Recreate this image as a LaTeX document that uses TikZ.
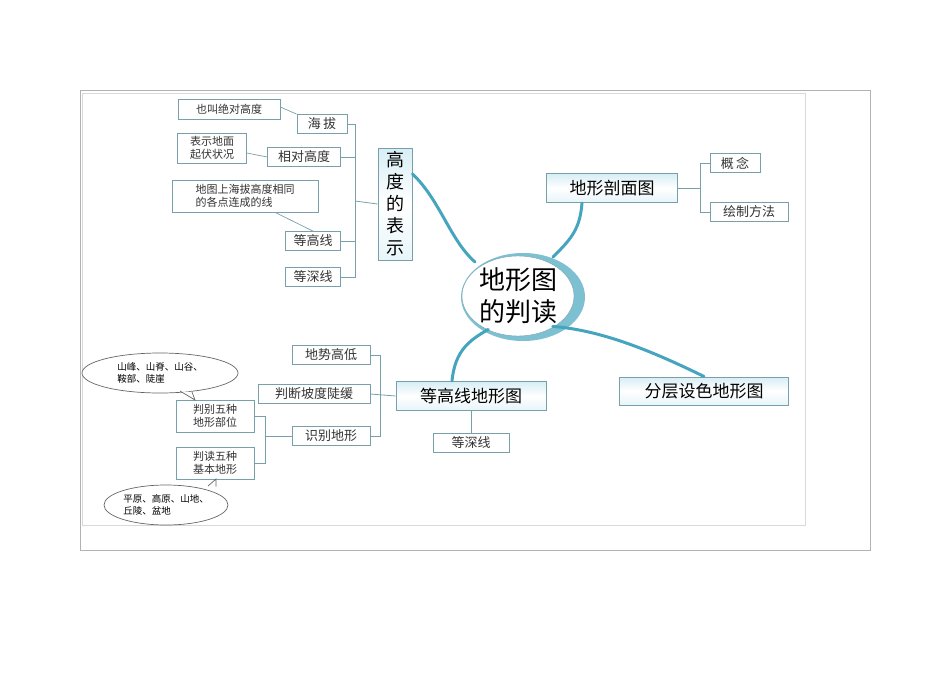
\documentclass[tikz,border=0pt]{standalone}
\usepackage{fontspec}
\setmainfont{Noto Sans CJK SC}
\usetikzlibrary{shapes.geometric}
\definecolor{teal1}{RGB}{70,165,190}
\definecolor{edge}{RGB}{120,160,170}
\definecolor{lb}{RGB}{215,238,245}
\tikzset{
 box/.style={draw=edge,line width=0.8pt,fill=white,inner sep=0pt,minimum height=19pt,font=\fontsize{13}{14}\selectfont,text=black!80},
 note/.style={draw=edge,line width=0.7pt,fill=white,inner sep=3pt,align=left,font=\fontsize{11}{13}\selectfont,text=black!80},
 main/.style={draw=edge,line width=1pt,top color=lb,bottom color=lb!60!white,middle color=white,inner sep=0pt,font=\fontsize{17}{18}\selectfont},
 br/.style={draw=edge,line width=0.8pt},
 big/.style={draw=teal1,line width=3pt,line cap=round},
 bub/.style={draw=black!60,line width=0.7pt,fill=white,ellipse,inner sep=0pt,align=left,font=\fontsize{9.5}{12}\selectfont}
}
\begin{document}
\begin{tikzpicture}[x=1pt,y=-1pt]
\useasboundingbox (0,0) rectangle (950,672);
\draw[black!30] (80,90) rectangle (870,550);
\draw[black!15] (82,93) rectangle (805,525);
% center
\fill[teal1!70] (523,297) ellipse [x radius=62,y radius=44];
\node[draw=edge,fill=white,ellipse,minimum width=112,minimum height=80,inner sep=0pt,align=center,font=\fontsize{26}{32}\selectfont] (c) at (518,296) {地形图\\的判读};
% main nodes
\node[main,minimum width=34,minimum height=112,align=center,font=\fontsize{18}{22}\selectfont] (h) at (395,204) {高\\度\\的\\表\\示};
\node[main,minimum width=131,minimum height=29] (p) at (612,188) {地形剖面图};
\node[main,minimum width=169,minimum height=28] (f) at (704,391) {分层设色地形图};
\node[main,minimum width=150,minimum height=29] (d) at (471,396) {等高线地形图};
% big connectors
\draw[big] (h.east) ++(0,-30) .. controls (440,200) and (450,240) .. (475,262);
\draw[big] (p.south) ++(-30,0) .. controls (580,230) and (570,240) .. (553,257);
\draw[big] (c.south east) ++(-5,2) .. controls (600,330) and (650,350) .. (f.north);
\draw[big] (c.south west) ++(10,5) .. controls (470,340) and (455,350) .. (452,381);
% left top children
\node[box,minimum width=50] (hb) at (322,124) {海\,拔};
\node[box,minimum width=73] (xd) at (304,157) {相对高度};
\node[box,minimum width=55] (dg) at (313,241) {等高线};
\node[box,minimum width=55] (ds) at (313,277) {等深线};
\node[note,minimum width=102,minimum height=20] (n1) at (229,109) {也叫绝对高度};
\node[note,minimum width=69,minimum height=30] (n2) at (212,148) {表示地面\\起伏状况};
\node[note,minimum width=146,minimum height=32] (n3) at (245,196) {地图上海拔高度相同\\的各点连成的线};
\draw[edge,line width=0.7pt] (n1.east) ++(0,-2) -- (hb.north west) ;
\draw[edge,line width=0.7pt] (n2.east) ++(0,5) -- (xd.west);
\draw[edge,line width=0.7pt] (n3.south) ++(30,0) -- (dg.north);
\draw[br] (hb.east) -- (355,124) -- (355,277) -- (ds.east);
\draw[br] (xd.east) -- (355,157);
\draw[br] (dg.east) -- (355,241);
\draw[br] (355,201) -- (h.west);
% right children
\node[box,minimum width=50] (gn) at (735,163) {概\,念};
\node[box,minimum width=78] (hz) at (749,212) {绘制方法};
\draw[br] (p.east) -- (700,188);
\draw[br] (gn.west) -- (700,163) -- (700,212) -- (hz.west);
% lower children
\node[box,minimum width=78] (ds2) at (331,355) {地势高低};
\node[box,minimum width=112] (pd) at (314,394) {判断坡度陡缓};
\node[box,minimum width=78] (sb) at (331,436) {识别地形};
\node[box,minimum width=76] (ds3) at (471,443) {等深线};
\draw[br] (d.south) -- (ds3.north);
\draw[br] (ds2.east) -- (380,355) -- (380,436) -- (sb.east);
\draw[br] (pd.east) -- (d.west);
\node[note,minimum width=78,minimum height=32,align=center] (w1) at (215,416) {判别五种\\地形部位};
\node[note,minimum width=78,minimum height=32,align=center] (w2) at (215,463) {判读五种\\基本地形};
\draw[br] (w1.east) -- (265,416) -- (265,463) -- (w2.east);
\draw[br] (265,436) -- (sb.west);
\node[bub,minimum width=156,minimum height=40] (e1) at (160,373) {山峰、山脊、山谷、\\鞍部、陡崖};
\node[bub,minimum width=124,minimum height=40] (e2) at (166,505) {平原、高原、山地、\\丘陵、盆地};
\draw[black!60,line width=0.7pt,fill=white] (180,391) -- (195,400) -- (192,392);
\draw[black!60,line width=0.7pt,fill=white] (208,486) -- (216,479) -- (216,486.5);
\end{tikzpicture}
\end{document}
